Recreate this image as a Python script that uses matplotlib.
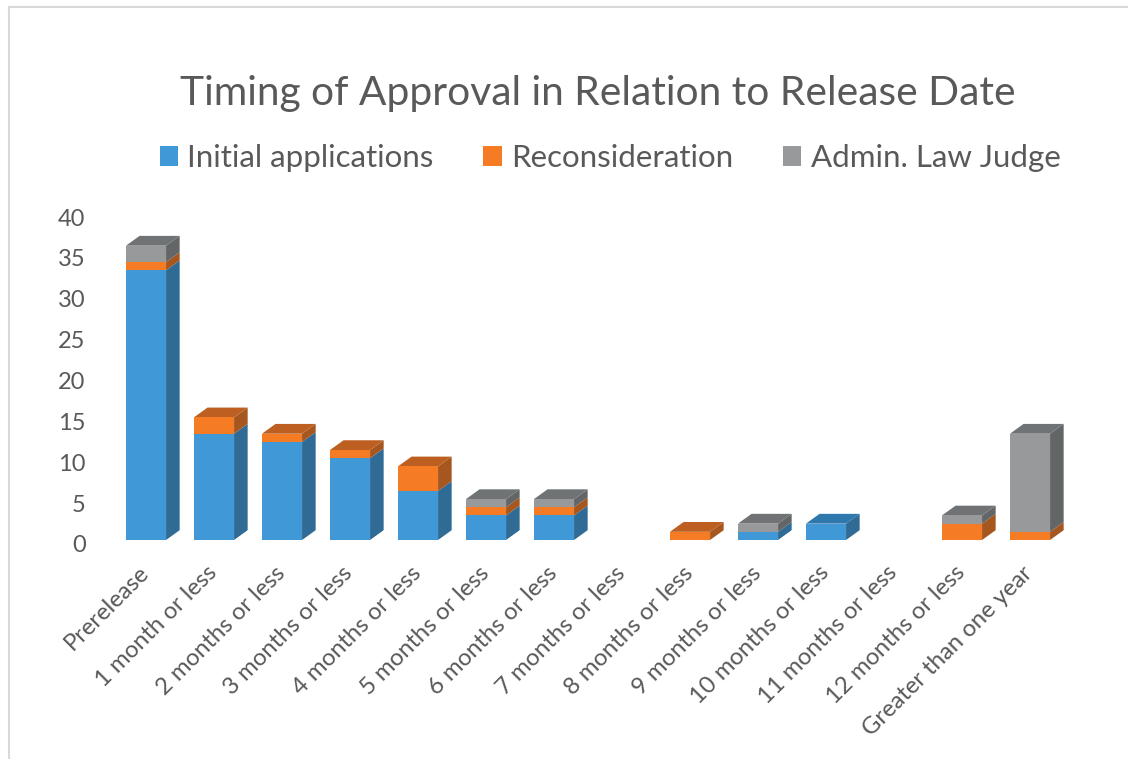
import matplotlib
matplotlib.use('Agg')
import matplotlib.pyplot as plt
from matplotlib.patches import Polygon
from matplotlib.lines import Line2D
from matplotlib.transforms import ScaledTranslation

plt.rcParams['font.family'] = ['Lato', 'DejaVu Sans']

categories = ['Prerelease', '1 month or less', '2 months or less', '3 months or less',
              '4 months or less', '5 months or less', '6 months or less', '7 months or less',
              '8 months or less', '9 months or less', '10 months or less', '11 months or less',
              '12 months or less', 'Greater than one year']
initial = [33, 13, 12, 10, 6, 3, 3, 0, 0, 1, 2, 0, 0, 0]
recon = [1, 2, 1, 1, 3, 1, 1, 0, 1, 0, 0, 0, 2, 1]
alj = [2, 0, 0, 0, 0, 1, 1, 0, 0, 1, 0, 0, 1, 12]
y_ticks = [0, 5, 10, 15, 20, 25, 30, 35, 40]

W, H = 1135, 759
fig = plt.figure(figsize=(W / 100, H / 100), dpi=100, facecolor='white')

# axes box in pixels, baseline at y=540, 8.18 px per unit
ax = fig.add_axes([112 / W, (H - 540) / H, 952 / W, 327 / H])
ax.set_xlim(-0.5, 13.5)
ax.set_ylim(0, 40)
ax.patch.set_alpha(0)

bar_w = 0.59
dx = 0.2
dy = 1.2

series = [('Initial applications', initial, '#4198D7', '#2F6B94', '#2F78AE'),
          ('Reconsideration', recon, '#F57B25', '#A5571F', '#BC5F20'),
          ('Admin. Law Judge', alj, '#97999B', '#626667', '#6F7375')]

bottom = [0] * len(categories)
handles = []
for name, vals, front, side, top in series:
    bars = ax.bar(range(len(vals)), vals, bar_w, bottom=bottom, color=front, label=name,
                  edgecolor='none', zorder=3)
    handles.append(bars)
    for i, v in enumerate(vals):
        if v == 0:
            continue
        x1 = i + bar_w / 2
        y0 = bottom[i]
        y1 = y0 + v
        ax.add_patch(Polygon([(x1, y0), (x1 + dx, y0 + dy), (x1 + dx, y1 + dy), (x1, y1)],
                             closed=True, fc=side, ec='none', zorder=2))
        # the top face only shows on the highest piece of the stack
        if y1 == initial[i] + recon[i] + alj[i]:
            x0 = i - bar_w / 2
            ax.add_patch(Polygon([(x0, y1), (x0 + dx, y1 + dy), (x1 + dx, y1 + dy), (x1, y1)],
                                 closed=True, fc=top, ec='none', zorder=2))
    bottom = [b + v for b, v in zip(bottom, vals)]

for s in ax.spines.values():
    s.set_visible(False)

ax.set_yticks(y_ticks)
ax.set_xticks(range(len(categories)))
ax.set_xticklabels(categories, rotation=45, ha='right', rotation_mode='anchor',
                   fontsize=17.2, color='#595959')
ax.tick_params(axis='both', length=0)
ax.tick_params(axis='x', pad=16)
ax.tick_params(axis='y', labelsize=17, labelcolor='#595959', pad=19)
shift = ScaledTranslation(0, -4 / 100, fig.dpi_scale_trans)
for lab in ax.get_yticklabels():
    lab.set_transform(lab.get_transform() + shift)
shift_x = ScaledTranslation(-8 / 100, 0, fig.dpi_scale_trans)
for lab in ax.get_xticklabels():
    lab.set_transform(lab.get_transform() + shift_x)

fig.text(598 / W, 1 - 93 / H, 'Timing of Approval in Relation to Release Date', ha='center',
         va='center', fontsize=29.3, color='#595959')

fig.legend(handles=handles, loc='center', bbox_to_anchor=(610 / W, 1 - 158 / H), ncol=3,
           frameon=False, fontsize=22.5, labelcolor='#595959', handlelength=0.58, handleheight=0.58,
           handletextpad=0.3, columnspacing=1.6, borderpad=0)

# chart frame, cropped at left and top
fig.add_artist(Line2D([8.5 / W, 8.5 / W], [0, 1 - 6.5 / H], color='#d9d9d9', lw=1.5))
fig.add_artist(Line2D([8.5 / W, 1127 / W], [1 - 6.5 / H, 1 - 6.5 / H], color='#d9d9d9', lw=1.5))

fig.savefig('out.png', dpi=100)
